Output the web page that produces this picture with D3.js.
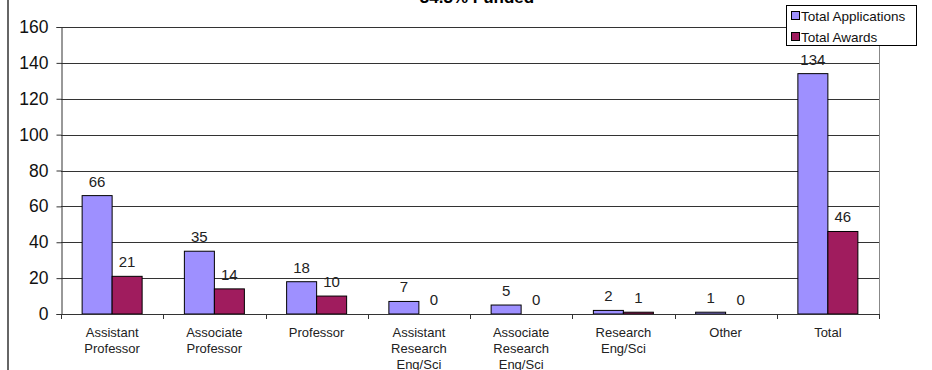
<!DOCTYPE html>
<html>
<head>
<meta charset="utf-8">
<script src="https://cdn.jsdelivr.net/npm/d3@7"></script>
<style>
  html, body { margin: 0; padding: 0; background: #fff; }
  svg { display: block; font-family: Arial, "Liberation Sans", sans-serif; }
</style>
</head>
<body>
<svg id="chart" width="932" height="370"></svg>
<script>
// Applications and awards by rank
const categories = [
  "Assistant Professor", "Associate Professor", "Professor",
  "Assistant Research Eng/Sci", "Associate Research Eng/Sci",
  "Research Eng/Sci", "Other", "Total"
];
const categoryLines = [
  ["Assistant", "Professor"], ["Associate", "Professor"], ["Professor"],
  ["Assistant", "Research", "Eng/Sci"], ["Associate", "Research", "Eng/Sci"],
  ["Research", "Eng/Sci"], ["Other"], ["Total"]
];
const seriesNames = ["Total Applications", "Total Awards"];
const applications = [66, 35, 18, 7, 5, 2, 1, 134];
const awards = [21, 14, 10, 0, 0, 1, 0, 46];
const yTicks = [0, 20, 40, 60, 80, 100, 120, 140, 160];
const titleText = "34.3% Funded";

const colors = ["#9e90ff", "#a01c5e"];
const series = [applications, awards];

const svg = d3.select("#chart");
const plot = { left: 61, right: 879, top: 27, bottom: 314 };

const x = d3.scaleBand().domain(categories).range([plot.left, plot.right]).padding(0);
const inner = d3.scaleBand().domain(seriesNames)
  .range([x.bandwidth() / 2 - 30, x.bandwidth() / 2 + 30]).padding(0);
const y = d3.scaleLinear().domain([0, 160]).range([plot.bottom, plot.top]);

// Outer frame line on the left
svg.append("line")
  .attr("x1", 8).attr("x2", 8).attr("y1", 0).attr("y2", 370)
  .attr("stroke", "#666").attr("stroke-width", 2);

// Title (only its lower edge falls inside the frame)
svg.append("text")
  .attr("x", 477).attr("y", 3)
  .attr("text-anchor", "middle")
  .attr("font-size", 17).attr("font-weight", "bold")
  .attr("fill", "#000")
  .text(titleText);

// Horizontal gridlines
svg.append("g").selectAll("line")
  .data(yTicks.filter(d => d > 0))
  .join("line")
  .attr("x1", plot.left).attr("x2", plot.right)
  .attr("y1", d => Math.round(y(d)) + 0.5).attr("y2", d => Math.round(y(d)) + 0.5)
  .attr("stroke", "#333").attr("stroke-width", 1);

// Right edge of the plot area
svg.append("line")
  .attr("x1", plot.right + 0.5).attr("x2", plot.right + 0.5)
  .attr("y1", plot.top).attr("y2", plot.bottom)
  .attr("stroke", "#888").attr("stroke-width", 1);

// Bars
const groups = svg.append("g").selectAll("g")
  .data(categories)
  .join("g")
  .attr("transform", d => `translate(${x(d)},0)`);

groups.each(function(cat, i) {
  const g = d3.select(this);
  series.forEach((vals, s) => {
    const v = vals[i];
    const bx = inner(seriesNames[s]);
    const top = y(v);
    g.append("rect")
      .attr("x", bx).attr("y", top)
      .attr("width", inner.bandwidth())
      .attr("height", Math.max(0, plot.bottom - top))
      .attr("fill", colors[s])
      .attr("stroke", "#000").attr("stroke-width", 1);
    g.append("text")
      .attr("x", bx + inner.bandwidth() / 2)
      .attr("y", top - 9)
      .attr("text-anchor", "middle")
      .attr("font-size", 15)
      .attr("fill", "#222")
      .text(v);
  });
});

// Y axis
const yAxis = d3.axisLeft(y).tickValues(yTicks).tickSize(5).tickPadding(8);
const gy = svg.append("g").attr("transform", `translate(${plot.left + 0.5},0)`).call(yAxis);
gy.select(".domain").attr("stroke", "#333");
gy.selectAll(".tick line").attr("stroke", "#333");
gy.selectAll(".tick text").attr("font-size", 17.5).attr("fill", "#111")
  .attr("font-family", "Arial, 'Liberation Sans', sans-serif");

// X axis: baseline with ticks at category boundaries
const gx = svg.append("g");
gx.append("line")
  .attr("x1", plot.left).attr("x2", plot.right + 1)
  .attr("y1", plot.bottom + 0.5).attr("y2", plot.bottom + 0.5)
  .attr("stroke", "#333");
const bounds = categories.map(c => x(c)).concat([plot.right]);
gx.selectAll("line.tk")
  .data(bounds)
  .join("line")
  .attr("class", "tk")
  .attr("x1", d => Math.round(d) + 0.5).attr("x2", d => Math.round(d) + 0.5)
  .attr("y1", plot.bottom).attr("y2", plot.bottom + 5)
  .attr("stroke", "#333");

// Category labels
const labels = svg.append("g").selectAll("text")
  .data(categories)
  .join("text")
  .attr("x", d => x(d) + x.bandwidth() / 2)
  .attr("y", 337)
  .attr("text-anchor", "middle")
  .attr("font-size", 13)
  .attr("fill", "#222");
labels.each(function(d, i) {
  const t = d3.select(this);
  categoryLines[i].forEach((line, k) => {
    t.append("tspan")
      .attr("x", x(d) + x.bandwidth() / 2)
      .attr("dy", k === 0 ? 0 : 16)
      .text(line);
  });
});

// Legend
const legend = svg.append("g").attr("transform", "translate(786,5)");
legend.append("rect")
  .attr("x", 0.5).attr("y", 0.5).attr("width", 130).attr("height", 40)
  .attr("fill", "#fff").attr("stroke", "#000").attr("stroke-width", 1);
seriesNames.forEach((name, s) => {
  const cy = 11 + s * 21;
  legend.append("rect")
    .attr("x", 5.5).attr("y", cy - 4.5).attr("width", 8).attr("height", 8)
    .attr("fill", colors[s]).attr("stroke", "#000");
  legend.append("text")
    .attr("x", 15).attr("y", cy + 4.5)
    .attr("font-size", 13.5).attr("fill", "#111")
    .text(name);
});
</script>
</body>
</html>
